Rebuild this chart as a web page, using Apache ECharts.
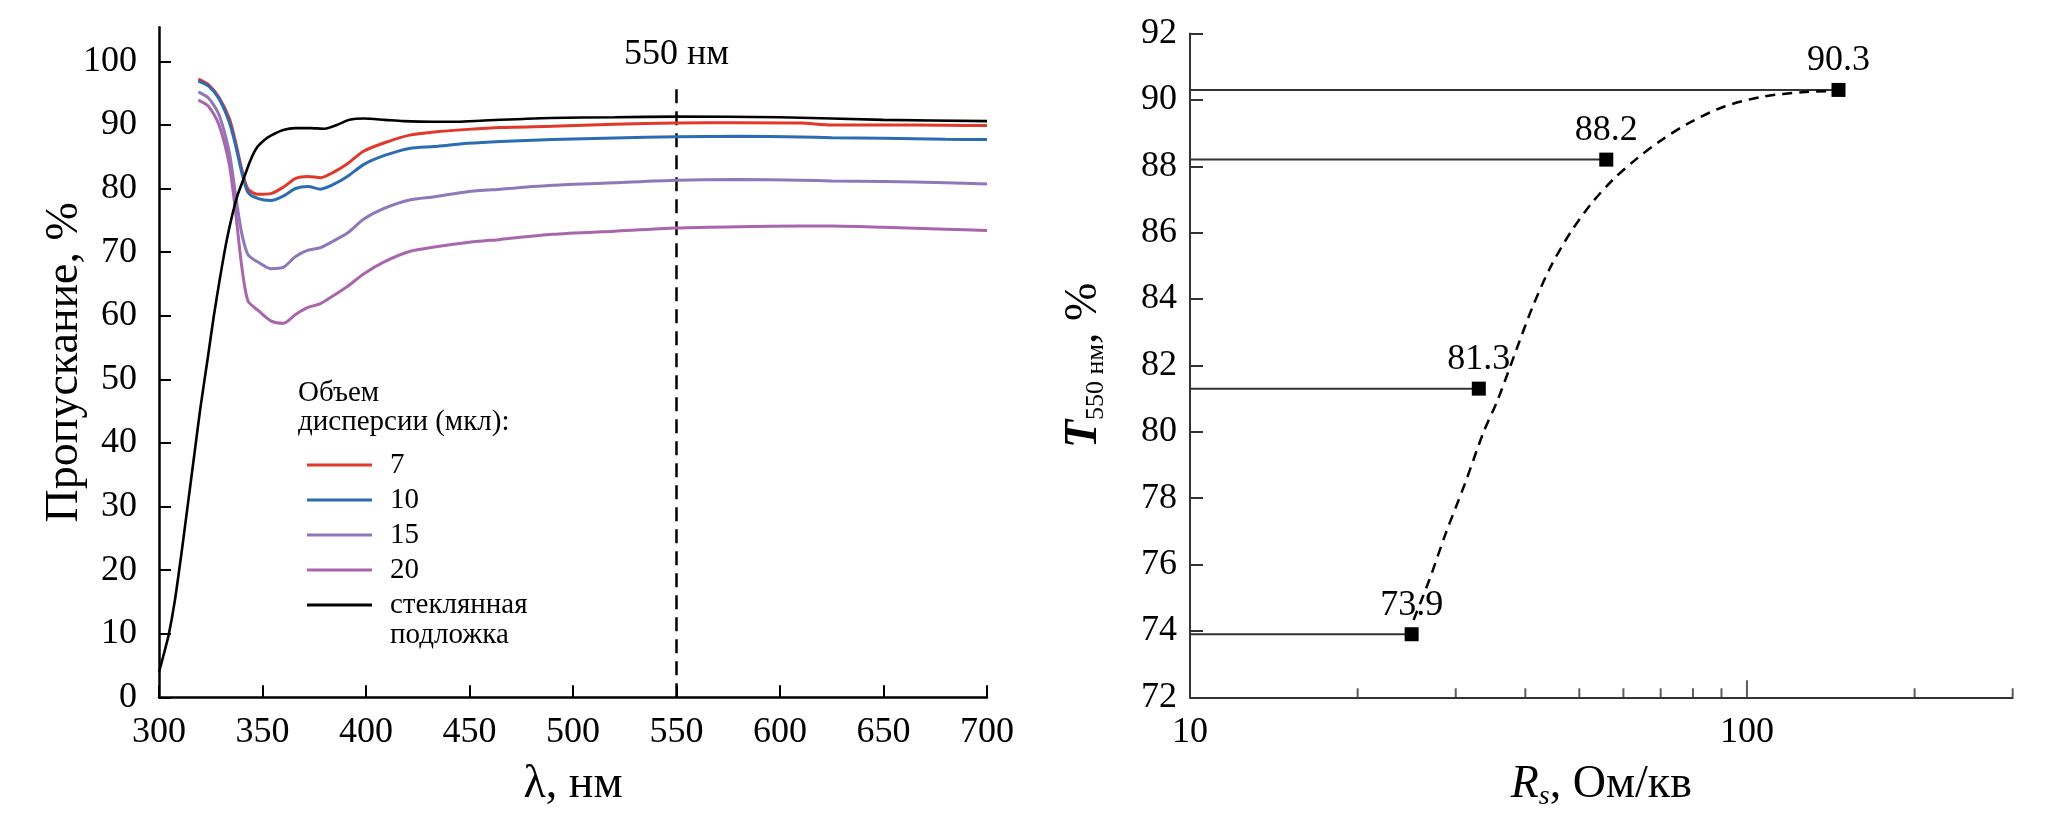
<!DOCTYPE html>
<html><head><meta charset="utf-8">
<script src="https://cdn.jsdelivr.net/npm/echarts@6/dist/echarts.min.js"></script>
<style>html,body{margin:0;padding:0;background:#fff}#c{width:2067px;height:817px}</style>
</head><body><div id="c"></div>
<script>
// ---------- Left chart data ----------
const wavelength = [319, 324, 329, 334, 337, 340, 343, 348, 354, 360, 366, 372, 378, 384, 391, 399, 409, 421, 433, 449, 465, 490, 520, 550, 580, 610, 625, 650, 680, 700];
const t7  = [97.2, 96.3, 94.3, 91.0, 87.3, 83.0, 79.9, 79.1, 79.2, 80.2, 81.6, 81.9, 81.7, 82.5, 83.9, 85.9, 87.2, 88.4, 88.9, 89.3, 89.6, 89.8, 90.1, 90.3, 90.35, 90.3, 90.0, 90.0, 89.95, 89.9];
const t10 = [96.9, 96.1, 94.1, 90.4, 86.8, 82.5, 79.4, 78.4, 78.1, 78.8, 80.0, 80.3, 79.9, 80.6, 81.9, 83.8, 85.2, 86.3, 86.6, 87.1, 87.4, 87.7, 87.95, 88.15, 88.2, 88.1, 88.0, 87.9, 87.75, 87.7];
const t15 = [95.2, 94.2, 91.6, 85.6, 79.0, 72.9, 69.6, 68.4, 67.4, 67.6, 69.3, 70.3, 70.7, 71.7, 73.0, 75.2, 76.9, 78.2, 78.7, 79.5, 79.9, 80.5, 80.9, 81.3, 81.4, 81.3, 81.2, 81.1, 80.9, 80.7];
const t20 = [93.9, 92.9, 90.0, 83.7, 76.3, 67.7, 62.3, 60.8, 59.2, 58.8, 60.2, 61.3, 61.9, 63.1, 64.6, 66.6, 68.5, 70.1, 70.8, 71.5, 72.0, 72.8, 73.3, 73.8, 74.0, 74.1, 74.1, 73.9, 73.6, 73.4];
const glassWavelength = [300, 302.5, 304.8, 307.7, 311, 314, 317, 320, 323.4, 326.5, 329.5, 332.5, 335.5, 338, 340.5, 344, 347, 350.5, 354, 360, 366, 373, 380, 386, 392, 399, 409, 418, 433, 444, 457, 473, 489, 520, 550, 600, 650, 700];
const glassT = [4, 7, 10, 15.3, 23, 30.5, 38, 45.5, 53, 60, 66, 71.5, 76, 79, 81.2, 84.3, 86.3, 87.5, 88.3, 89.2, 89.5, 89.5, 89.4, 90.0, 90.8, 91.0, 90.8, 90.6, 90.5, 90.5, 90.7, 90.9, 91.1, 91.2, 91.3, 91.2, 90.8, 90.6];
const volumeNames = ['7', '10', '15', '20'];
const glassName = 'стеклянная подложка';
const yTicksLeft = [0, 10, 20, 30, 40, 50, 60, 70, 80, 90, 100];
const markerWavelength = 550;
const markerRange = [0, 96.6];

// ---------- Right chart data ----------
const rs = [25.0, 33.0, 55.9, 146];
const t550 = [73.9, 81.3, 88.2, 90.3];
const fitRs = [25.2, 26.9, 28.8, 31.2, 33.6, 35.7, 38.6, 41.3, 44.5, 48.2, 52.7, 57.5, 63.1, 69.7, 78.6, 91.1, 107, 125.7, 143.7];
const fitT  = [74.33, 75.54, 76.95, 78.46, 79.96, 80.97, 82.5, 83.8, 85.0, 86.0, 86.9, 87.6, 88.2, 88.75, 89.3, 89.8, 90.1, 90.23, 90.27];
const rsAxisMin = 10, rsAxisMax = 300;
const rsMinorTicks = [20, 30, 40, 50, 60, 70, 80, 90, 200, 300];
const rsMajorTicks = [100];

const FONT = '"Liberation Serif", "Times New Roman", serif';
const curveColors = ['#e2372b', '#2b6cb3', '#8d78b9', '#a866ad'];
const tSeries = [t7, t10, t15, t20];

const series = [];
volumeNames.forEach((n, i) => {
  series.push({
    name: n, type: 'line', xAxisIndex: 0, yAxisIndex: 0,
    data: wavelength.map((w, j) => [w, tSeries[i][j]]),
    symbol: 'none', smooth: 0.25,
    lineStyle: { color: curveColors[i], width: 3 },
    itemStyle: { color: curveColors[i] }, z: 3
  });
});
series.push({
  name: glassName, type: 'line', xAxisIndex: 0, yAxisIndex: 0,
  data: glassWavelength.map((w, j) => [w, glassT[j]]),
  symbol: 'none', smooth: 0.25,
  lineStyle: { color: '#000', width: 2.6 }, itemStyle: { color: '#000' }, z: 4
});
series.push({
  name: 'marker', type: 'line', xAxisIndex: 0, yAxisIndex: 0,
  data: [[markerWavelength, markerRange[0]], {
    value: [markerWavelength, markerRange[1]],
    label: { show: true, position: 'top', distance: 10, formatter: markerWavelength + ' нм',
             fontFamily: FONT, fontSize: 36, color: '#000' }
  }],
  symbol: 'circle', symbolSize: 0, showSymbol: true,
  lineStyle: { color: '#000', width: 2.5, type: [14, 8] }, itemStyle: { color: 'transparent' }, z: 2
});

// right chart
rs.forEach((r, i) => {
  series.push({
    type: 'line', xAxisIndex: 1, yAxisIndex: 1, silent: true,
    data: [[rsAxisMin, t550[i]], [r, t550[i]]],
    symbol: 'none', lineStyle: { color: '#333', width: 2 }, z: 2
  });
});
series.push({
  type: 'line', xAxisIndex: 1, yAxisIndex: 1, silent: true,
  data: fitRs.map((r, i) => [r, fitT[i]]),
  symbol: 'none', smooth: 0.3,
  lineStyle: { color: '#000', width: 2.5, type: [10, 7] }, z: 3
});
series.push({
  type: 'scatter', xAxisIndex: 1, yAxisIndex: 1,
  data: rs.map((r, i) => [r, t550[i]]),
  symbol: 'rect', symbolSize: 14, itemStyle: { color: '#000', opacity: 1 },
  label: { show: true, position: 'top', distance: 4, formatter: p => p.value[1].toFixed(1),
           fontFamily: FONT, fontSize: 36, color: '#000', opacity: 1, textBorderWidth: 0 }, z: 5
});
series.push({
  type: 'scatter', xAxisIndex: 1, yAxisIndex: 1, silent: true, clip: false,
  data: rsMinorTicks.map(v => [v, 72]),
  symbol: 'rect', symbolSize: [2, 9], symbolOffset: [0, '-50%'], itemStyle: { color: '#333' }, z: 6
});
series.push({
  type: 'scatter', xAxisIndex: 1, yAxisIndex: 1, silent: true, clip: false,
  data: rsMajorTicks.map(v => [v, 72]),
  symbol: 'rect', symbolSize: [2, 17], symbolOffset: [0, '-50%'], itemStyle: { color: '#333' }, z: 6
});

const labelStyle = { fontFamily: FONT, fontSize: 36, color: '#000' };

const option = {
  animation: false,
  backgroundColor: '#fff',
  textStyle: { fontFamily: FONT },
  grid: [
    { left: 159, top: 27.3, width: 828, height: 670, outerBoundsMode: 'none', containLabel: false },
    { left: 1190, top: 33.5, width: 822.7, height: 663.8, outerBoundsMode: 'none', containLabel: false }
  ],
  xAxis: [
    {
      type: 'value', gridIndex: 0, min: 300, max: 700, interval: 50,
      axisLine: { show: true, lineStyle: { color: '#000', width: 2.5 } },
      axisTick: { show: true, inside: true, length: 12, lineStyle: { color: '#000', width: 2 } },
      axisLabel: Object.assign({ margin: 17 }, labelStyle),
      splitLine: { show: false },
      name: 'λ, нм', nameLocation: 'middle', nameGap: 63, nameMoveOverlap: false,
      nameTextStyle: { fontFamily: FONT, fontSize: 46, color: '#000', lineHeight: 50 }
    },
    {
      type: 'log', gridIndex: 1, min: rsAxisMin, max: rsAxisMax, logBase: 10,
      axisLine: { show: true, lineStyle: { color: '#333', width: 2 } },
      axisTick: { show: false },
      axisLabel: Object.assign({ margin: 17, showMaxLabel: false }, labelStyle),
      splitLine: { show: false }, minorTick: { show: false },
      name: '{r|R}{s|s}{n|, Ом/кв}', nameLocation: 'middle', nameGap: 63, nameMoveOverlap: false,
      nameTextStyle: {
        fontFamily: FONT, color: '#000',
        rich: {
          r: { fontFamily: FONT, fontSize: 46, fontStyle: 'italic', lineHeight: 50, color: '#000' },
          s: { fontFamily: FONT, fontSize: 28, fontStyle: 'italic', lineHeight: 20, verticalAlign: 'bottom', color: '#000' },
          n: { fontFamily: FONT, fontSize: 46, lineHeight: 50, color: '#000' }
        }
      }
    }
  ],
  yAxis: [
    {
      type: 'value', gridIndex: 0, min: 0, max: 105.35,
      axisLine: { show: true, lineStyle: { color: '#000', width: 2.5 } },
      axisTick: { show: true, inside: true, length: 12, customValues: yTicksLeft, lineStyle: { color: '#000', width: 2 } },
      axisLabel: Object.assign({ margin: 22, customValues: yTicksLeft }, labelStyle),
      splitLine: { show: false },
      name: 'Пропускание, %', nameLocation: 'middle', nameGap: 69, nameRotate: 90, nameMoveOverlap: false,
      nameTextStyle: { fontFamily: FONT, fontSize: 46, color: '#000', lineHeight: 50 }
    },
    {
      type: 'value', gridIndex: 1, min: 72, max: 92, interval: 2,
      axisLine: { show: true, lineStyle: { color: '#333', width: 2 } },
      axisTick: { show: true, inside: true, length: 13, lineStyle: { color: '#333', width: 2 } },
      axisLabel: Object.assign({ margin: 13 }, labelStyle),
      splitLine: { show: false },
      name: '{t|T}{s|550 нм}{n|, %}', nameLocation: 'middle', nameGap: 81, nameRotate: 90, nameMoveOverlap: false,
      nameTextStyle: {
        fontFamily: FONT, color: '#000',
        rich: {
          t: { fontFamily: FONT, fontSize: 46, fontStyle: 'italic', fontWeight: 'bold', lineHeight: 50, color: '#000' },
          s: { fontFamily: FONT, fontSize: 26, lineHeight: 20, verticalAlign: 'bottom', color: '#000' },
          n: { fontFamily: FONT, fontSize: 46, lineHeight: 50, color: '#000' }
        }
      }
    }
  ],
  legend: {
    data: volumeNames.concat([glassName]),
    orient: 'vertical', left: 307, top: 450, padding: 0, itemGap: 5,
    icon: 'rect', itemWidth: 65, itemHeight: 3, selectedMode: false,
    formatter: n => (n === glassName ? 'стеклянная' : n),
    textStyle: { fontFamily: FONT, fontSize: 29, color: '#000', lineHeight: 30, padding: [0, 0, 0, 13] }
  },
  graphic: [
    { type: 'text', left: 298, top: 378.5, silent: true,
      style: { text: 'Объем\nдисперсии (мкл):', font: '29px ' + FONT, fill: '#000', lineHeight: 29 } },
    { type: 'text', left: 390, top: 620, silent: true,
      style: { text: 'подложка', font: '29px ' + FONT, fill: '#000', lineHeight: 30 } }
  ],
  series: series
};

const chart = echarts.init(document.getElementById('c'), null, { renderer: 'canvas', width: 2067, height: 817 });
chart.setOption(option);
</script>
</body></html>
